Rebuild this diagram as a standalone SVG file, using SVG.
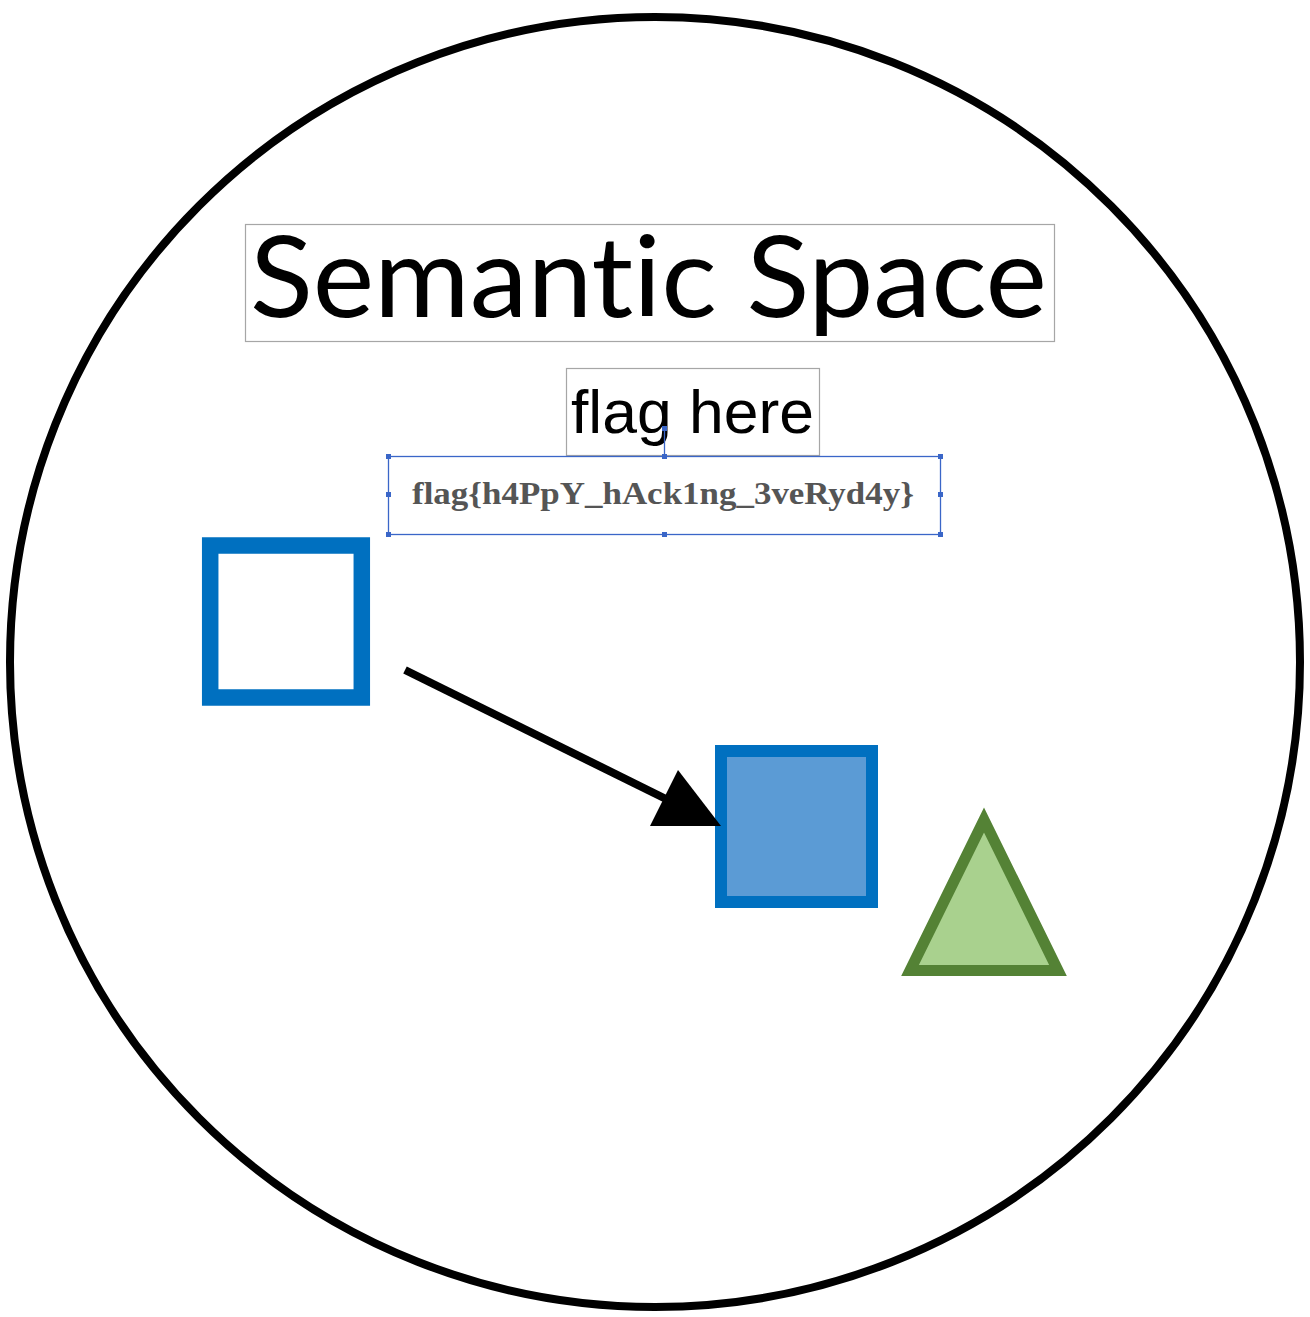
<svg xmlns="http://www.w3.org/2000/svg" width="1310" height="1317" viewBox="0 0 1310 1317">
<style>
.frame{fill:#fff;stroke:#a6a6a6;stroke-width:1.2}
.sel{fill:none;stroke:#3a66c8;stroke-width:1.3}
.h{fill:#3a66c8}
.nolig{font-variant-ligatures:none;font-feature-settings:"liga" 0}
</style>
<rect width="1310" height="1317" fill="#fff"/>
<g id="space">
<circle cx="655" cy="662" r="645" fill="#fff" stroke="#000" stroke-width="8"/>
</g>
<g id="title">
<rect class="frame" x="245.5" y="224.5" width="809" height="117"/>
<text class="nolig" x="250" y="317" font-family="Lato, 'Open Sans', sans-serif" font-size="113" textLength="797" lengthAdjust="spacingAndGlyphs" fill="#000">Semantic Space</text>
</g>
<g id="flag-here">
<rect class="frame" x="566.5" y="368.5" width="253" height="87"/>
<text x="571" y="433" font-family="'Liberation Sans', Arial, sans-serif" font-size="62" textLength="243" lengthAdjust="spacingAndGlyphs" fill="#000">flag here</text>
</g>
<g id="flag-box">
<text x="412" y="504" font-family="'Liberation Serif', 'Times New Roman', serif" font-size="31" font-weight="bold" textLength="502" lengthAdjust="spacingAndGlyphs" fill="#555">flag{h4PpY_hAck1ng_3veRyd4y}</text>
<rect class="sel" x="388.5" y="456.5" width="552" height="78"/>
<line class="sel" x1="664.5" y1="428" x2="664.5" y2="456"/>
<rect class="h" x="662" y="426" width="5" height="5"/>
<rect class="h" x="386" y="454" width="5" height="5"/>
<rect class="h" x="662" y="454" width="5" height="5"/>
<rect class="h" x="938" y="454" width="5" height="5"/>
<rect class="h" x="386" y="492" width="5" height="5"/>
<rect class="h" x="938" y="492" width="5" height="5"/>
<rect class="h" x="386" y="532" width="5" height="5"/>
<rect class="h" x="662" y="532" width="5" height="5"/>
<rect class="h" x="938" y="532" width="5" height="5"/>
</g>
<g id="hollow-square">
<rect x="210.2" y="545.5" width="151.6" height="152" fill="#fff" stroke="#0070c0" stroke-width="16.5"/>
</g>
<g id="filled-square">
<rect x="721" y="751" width="151" height="151" fill="#5b9bd5" stroke="#0070c0" stroke-width="12"/>
</g>
<g id="triangle">
<polygon points="984,820 910,970.5 1058,970.5" fill="#a9d18e" stroke="#548235" stroke-width="11" stroke-linejoin="miter"/>
</g>
<g id="connectors">
<line x1="405" y1="670" x2="668" y2="800" stroke="#000" stroke-width="8"/>
<polygon points="721,826 678,770 650,826" fill="#000"/>
</g>
</svg>
